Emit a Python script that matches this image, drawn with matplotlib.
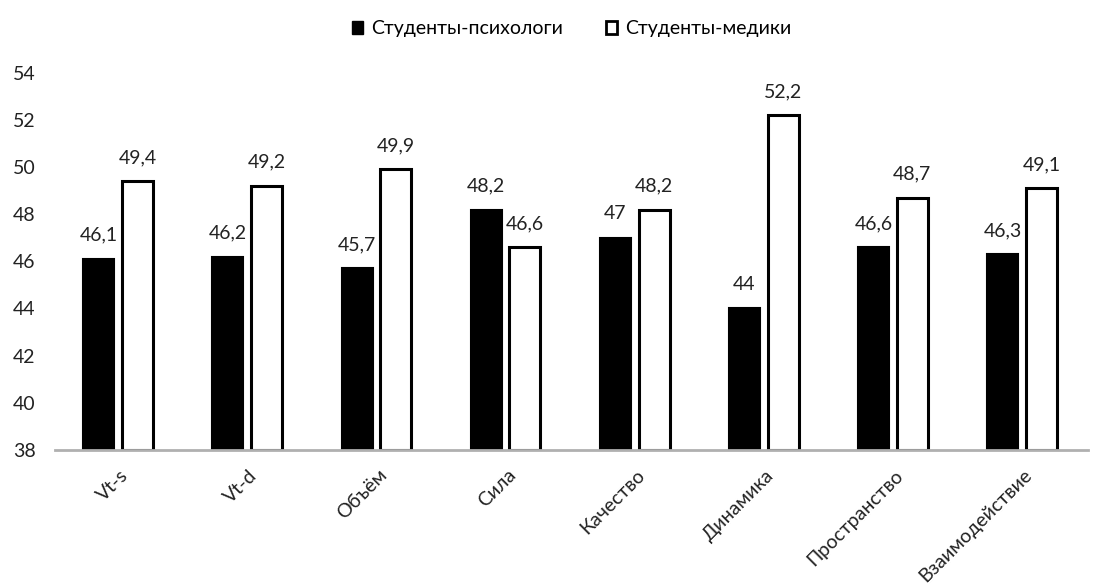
import numpy as np
import matplotlib.pyplot as plt
from matplotlib.patches import Patch

plt.rcParams['font.family'] = ['Lato', 'DejaVu Sans']

categories = ["Vt-s", "Vt-d", "Объём", "Сила", "Качество", "Динамика",
              "Пространство", "Взаимодействие"]
psych = [46.1, 46.2, 45.7, 48.2, 47, 44, 46.6, 46.3]
med = [49.4, 49.2, 49.9, 46.6, 48.2, 52.2, 48.7, 49.1]
series_names = ["Студенты-психологи", "Студенты-медики"]


def fmt(v):
    s = f"{v:g}"
    return s.replace(".", ",")


fig = plt.figure(figsize=(10.99, 5.88), dpi=100)
ax = fig.add_axes([0.05, 0.235, 0.94, 0.641])

x = np.arange(len(categories))
w = 0.24
b1 = ax.bar(x - 0.16, np.array(psych) - 38, w, bottom=38, color="black",
            edgecolor="black", linewidth=1.5)
b2 = ax.bar(x + 0.14, np.array(med) - 38, w, bottom=38, color="white",
            edgecolor="black", linewidth=2.2)

fs = 14
for xi, v in zip(x - 0.16, psych):
    ax.text(xi, v + 0.65, fmt(v), ha="center", va="bottom", fontsize=fs,
            color="#222222")
for xi, v in zip(x + 0.14, med):
    ax.text(xi, v + 0.65, fmt(v), ha="center", va="bottom", fontsize=fs,
            color="#222222")

ax.set_xlim(-0.5, len(categories) - 0.5)
ax.set_ylim(38, 54)
ax.set_yticks(np.arange(38, 55, 2))
ax.set_xticks(x)
ax.set_xticklabels(categories, rotation=45, ha="right", rotation_mode="anchor",
                   fontsize=fs, color="#222222")
ax.tick_params(axis="y", length=0, labelsize=fs, labelcolor="#222222", pad=14)
ax.tick_params(axis="x", length=0, pad=12)

for s in ["top", "right", "left"]:
    ax.spines[s].set_visible(False)
ax.spines["bottom"].set_color("#b0b0b0")
ax.spines["bottom"].set_linewidth(2)

handles = [Patch(facecolor="black", edgecolor="black"),
           Patch(facecolor="white", edgecolor="black", linewidth=2)]
fig.legend(handles, series_names, loc="upper center", bbox_to_anchor=(0.52, 0.995),
           ncol=2, frameon=False, fontsize=fs, handlelength=0.6, handleheight=0.6,
           handletextpad=0.4, columnspacing=2.2)

fig.savefig("out.png", dpi=100)
